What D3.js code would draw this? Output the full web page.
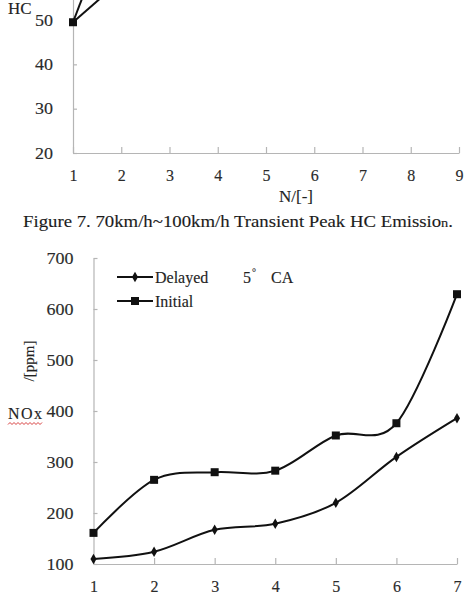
<!DOCTYPE html>
<html>
<head>
<meta charset="utf-8">
<script src="https://cdn.jsdelivr.net/npm/d3@7"></script>
<style>
    body { margin: 0; background: #fff; }
    svg { display: block; font-family: "Liberation Serif", "Times New Roman", serif; }
    svg text { stroke: #333; stroke-width: 0.15px; }
    .axis path, .axis line { stroke: #b5b5b5; stroke-width: 1.2; }
    .axis text { fill: #2a2a2a; font-size: 16px; font-family: "Liberation Serif", serif; }
</style>
</head>
<body>
<svg id="chart" width="470" height="596"></svg>
<script>
// ---- data ----
// top panel: HC, only the very start of the two curves is visible
var hcCycles = [1, 2];
var hcSeriesA = [49.5, 78];
var hcSeriesB = [49.5, 59];
var hcTicksY = [20, 30, 40, 50];
var hcTicksX = [1, 2, 3, 4, 5, 6, 7, 8, 9];

// bottom panel: NOx
var noxCycles = [1, 2, 3, 4, 5, 6, 7];
var noxDelayed = [110, 124, 167, 179, 220, 310, 386];
var noxInitial = [161, 265, 280, 283, 352, 376, 629];
var noxTicksY = [100, 200, 300, 400, 500, 600, 700];
var legendLabels = ['Delayed', 'Initial'];

(function() {
    'use strict';

    var svg = d3.select('#chart');
    var ink = '#111';

    var diamond = d3.symbol().type(d3.symbolDiamond).size(32);
    var square = d3.symbol().type(d3.symbolSquare).size(64);

    function zip(xs, ys) {
        return xs.map(function(x, i) { return [x, ys[i]]; });
    }

    // draws axes with inward ticks, labels pushed down/left like the scan
    function drawAxes(x, y, xTicks, yTicks, yLabelWidth) {
        var yAxis = svg.append('g')
            .attr('class', 'axis')
            .attr('transform', 'translate(' + x.range()[0] + ',0)')
            .call(d3.axisLeft(y).tickValues(yTicks).tickFormat(d3.format('d'))
                .tickSizeInner(-4).tickSizeOuter(0).tickPadding(20));
        yAxis.selectAll('text')
            .attr('textLength', function(d) { return String(d).length * yLabelWidth; })
            .attr('lengthAdjust', 'spacingAndGlyphs');

        var xAxis = svg.append('g')
            .attr('class', 'axis')
            .attr('transform', 'translate(0,' + y.range()[0] + ')')
            .call(d3.axisBottom(x).tickValues(xTicks).tickFormat(d3.format('d'))
                .tickSizeInner(-6).tickSizeOuter(0));
        xAxis.selectAll('text')
            .attr('dy', null)
            .attr('y', 28);
    }

    ////////////
    // top panel (cut off by the page edge)

    var xHc = d3.scaleLinear().domain([1, 9]).range([73, 459]);
    var yHc = d3.scaleLinear().domain([20, 60]).range([153, -24.3]);

    drawAxes(xHc, yHc, hcTicksX, hcTicksY, 9);

    var hcLine = d3.line()
        .x(function(d) { return xHc(d[0]); })
        .y(function(d) { return yHc(d[1]); });

    [hcSeriesA, hcSeriesB].forEach(function(s) {
        svg.append('path')
            .attr('d', hcLine(zip(hcCycles, s)))
            .attr('fill', 'none')
            .attr('stroke', ink)
            .attr('stroke-width', 2);
    });
    svg.append('path')
        .attr('d', square())
        .attr('transform', 'translate(' + xHc(hcCycles[0]) + ',' + yHc(hcSeriesA[0]) + ')')
        .attr('fill', ink);

    svg.append('text')
        .attr('x', 8).attr('y', 14)
        .attr('font-size', 17).attr('fill', '#222')
        .text('HC');

    svg.append('text')
        .attr('x', 296).attr('y', 202)
        .attr('text-anchor', 'middle')
        .attr('font-size', 17).attr('fill', '#222')
        .text('N/[-]');

    // caption
    var cap = svg.append('text')
        .attr('x', 23).attr('y', 227)
        .attr('font-size', 17).attr('fill', '#1a1a1a')
        .attr('textLength', 430)
        .attr('lengthAdjust', 'spacingAndGlyphs');
    cap.append('tspan').text('Figure 7. 70km/h~100km/h Transient Peak HC Emissio');
    cap.append('tspan').attr('font-size', 13).text('n');
    cap.append('tspan').text('.');

    ////////////
    // bottom panel: NOx

    var xNox = d3.scaleLinear().domain([1, 7]).range([93.5, 457]);
    var yNox = d3.scaleLinear().domain([100, 700]).range([564, 258]);

    drawAxes(xNox, yNox, noxCycles, noxTicksY, 9);

    var noxLine = d3.line()
        .curve(d3.curveCardinal)
        .x(function(d) { return xNox(d[0]); })
        .y(function(d) { return yNox(d[1]); });

    var series = [
        { values: noxDelayed, marker: diamond },
        { values: noxInitial, marker: square }
    ];

    series.forEach(function(s) {
        var pts = zip(noxCycles, s.values);
        svg.append('path')
            .attr('d', noxLine(pts))
            .attr('fill', 'none')
            .attr('stroke', ink)
            .attr('stroke-width', 2);
        svg.append('g').selectAll('path')
            .data(pts)
            .enter().append('path')
            .attr('d', s.marker())
            .attr('transform', function(d) { return 'translate(' + xNox(d[0]) + ',' + yNox(d[1]) + ')'; })
            .attr('fill', ink);
    });

    // legend
    var legend = svg.append('g');
    series.forEach(function(s, i) {
        var ly = 277 + i * 24;
        legend.append('line')
            .attr('x1', 117).attr('x2', 153)
            .attr('y1', ly).attr('y2', ly)
            .attr('stroke', ink).attr('stroke-width', 2);
        legend.append('path')
            .attr('d', s.marker())
            .attr('transform', 'translate(135,' + ly + ')')
            .attr('fill', ink);
        legend.append('text')
            .attr('x', 155).attr('y', ly + 6)
            .attr('font-size', 16).attr('fill', '#222')
            .text(legendLabels[i]);
    });
    legend.append('text')
        .attr('x', 243).attr('y', 283)
        .attr('font-size', 16).attr('fill', '#222')
        .text('5');
    legend.append('text')
        .attr('x', 252).attr('y', 276)
        .attr('font-size', 10).attr('fill', '#222')
        .text('°');
    legend.append('text')
        .attr('x', 271).attr('y', 283)
        .attr('font-size', 16).attr('fill', '#222')
        .text('CA');

    // y label, split in two pieces as in the scan
    svg.append('text')
        .attr('x', 8).attr('y', 419)
        .attr('font-size', 16).attr('fill', '#222')
        .attr('textLength', 34)
        .text('NOx');

    // red spell-check squiggle under "NOx"
    var wave = d3.range(0, 18).map(function(i) { return [8 + i * 2, i % 2 ? 422.5 : 424.5]; });
    svg.append('path')
        .attr('d', d3.line()(wave))
        .attr('fill', 'none')
        .attr('stroke', '#d84040')
        .attr('stroke-width', 1);

    svg.append('text')
        .attr('transform', 'translate(34,361) rotate(-90)')
        .attr('text-anchor', 'middle')
        .attr('font-size', 15).attr('fill', '#222')
        .text('/[ppm]');
})();
</script>
</body>
</html>
